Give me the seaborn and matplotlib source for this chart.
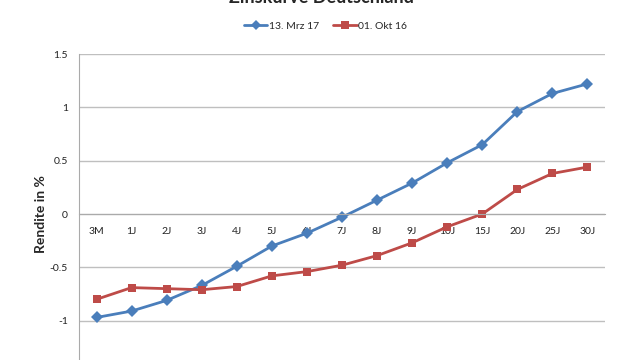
import numpy as np
import pandas as pd
import matplotlib
matplotlib.use("Agg")
import matplotlib.pyplot as plt
import seaborn as sns
from matplotlib.lines import Line2D

# maturities and yields (in %)
laufzeit = ["3M", "1J", "2J", "3J", "4J", "5J", "6J", "7J", "8J", "9J",
            "10J", "15J", "20J", "25J", "30J"]
mrz17 = [-0.97, -0.91, -0.81, -0.67, -0.49, -0.30, -0.18, -0.03, 0.13, 0.29,
         0.48, 0.65, 0.96, 1.13, 1.22]
okt16 = [-0.80, -0.69, -0.70, -0.71, -0.68, -0.58, -0.54, -0.48, -0.39, -0.27,
         -0.12, 0.00, 0.23, 0.38, 0.44]
serien = ["13. Mrz 17", "01. Okt 16"]
yticks = [-1, -0.5, 0, 0.5, 1, 1.5]
ytick_labels = ["-1", "-0.5", "0", "0.5", "1", "1.5"]

df = pd.DataFrame({
    "pos": list(range(len(laufzeit))) * 2,
    "rendite": mrz17 + okt16,
    "serie": [serien[0]] * len(laufzeit) + [serien[1]] * len(laufzeit),
})

sns.set_style("white")
plt.rcParams["font.family"] = ["Lato", "DejaVu Sans"]

fig = plt.figure(figsize=(6.4, 3.6), dpi=100)
# plot area runs below the figure edge like in the source image
ax = fig.add_axes([79 / 640, -14 / 360, 526 / 640, 320 / 360])

farben = {serien[0]: "#4A7EBB", serien[1]: "#BE4B48"}
sns.lineplot(data=df, x="pos", y="rendite", hue="serie", style="serie",
             palette=farben, markers={serien[0]: "D", serien[1]: "s"},
             dashes=False, linewidth=2, markersize=6, markeredgewidth=0,
             sort=False, ax=ax, legend=False)

ax.set_xlim(-0.5, len(laufzeit) - 0.5)
ax.set_ylim(-1.5, 1.5)
ax.set_yticks(yticks)
ax.set_yticklabels(ytick_labels)
ax.set_xticks(range(len(laufzeit)))
ax.set_xticklabels(laufzeit)
ax.grid(axis="y", color="#BFBFBF", linewidth=1)
ax.set_axisbelow(True)
ax.tick_params(axis="both", length=0, labelsize=7.5, colors="#222222")
ax.tick_params(axis="x", pad=9)
ax.tick_params(axis="y", pad=8)

for s in ["top", "right"]:
    ax.spines[s].set_visible(False)
ax.spines["bottom"].set_position(("data", 0))
ax.spines["bottom"].set_color("#AAAAAA")
ax.spines["left"].set_color("#AAAAAA")

ax.set_xlabel("")
ax.set_ylabel("Rendite in %", fontsize=10, fontweight="bold", labelpad=2)

# legend
handles = [Line2D([0], [0], color=farben[serien[0]], marker="D", lw=2, ms=5, mew=0),
           Line2D([0], [0], color=farben[serien[1]], marker="s", lw=2, ms=6, mew=0)]
fig.legend(handles, serien, loc="center", bbox_to_anchor=(0.508, 0.928), ncol=2,
           frameon=False, fontsize=7.5, handlelength=2.3, handletextpad=0.1,
           columnspacing=1.35)

fig.text(0.503, 1.006, "Zinskurve Deutschland", ha="center", va="center",
         fontsize=13, fontweight="bold")

fig.savefig("out.png", dpi=100)
